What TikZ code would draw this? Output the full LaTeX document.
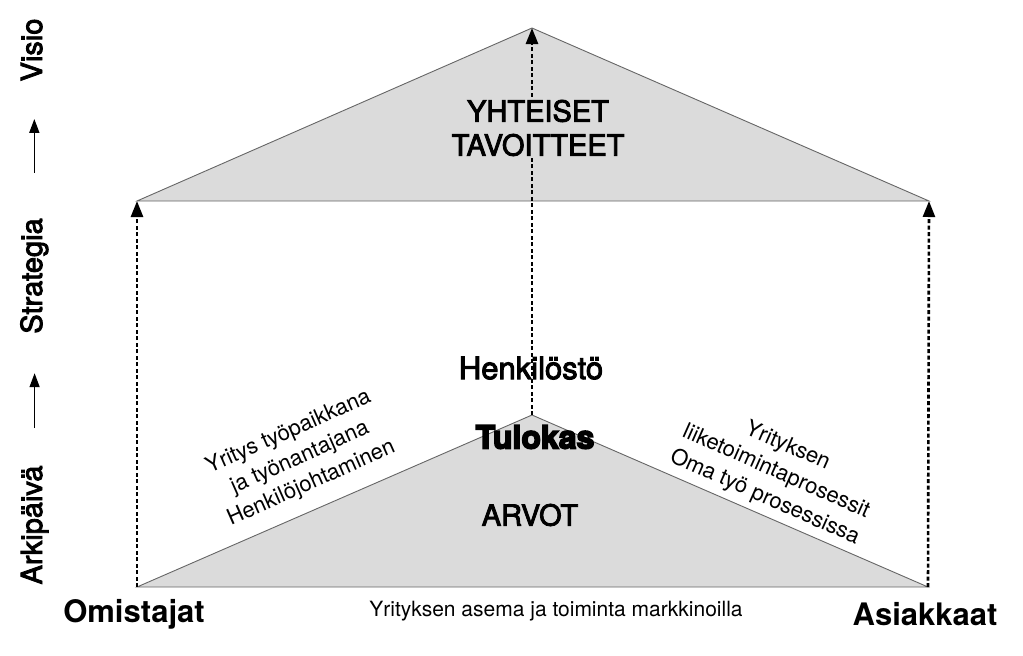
\documentclass[tikz,border=0pt]{standalone}
\usepackage{fontspec}
\setmainfont{TeX Gyre Heros}
\newfontfamily\mediumfont[FakeBold=3]{TeX Gyre Heros}
\newfontfamily\blackfont[FakeBold=5]{TeX Gyre Heros}
\usetikzlibrary{arrows.meta}

\begin{document}
\begin{tikzpicture}[x=1pt, y=-1pt,
    roof/.style = {fill=black!14, draw=black!60, line width=0.9pt},
    rise/.style = {draw, line width=2.6pt, dash pattern=on 4pt off 2.5pt, -{Triangle[length=16pt,width=12pt]}},
    axisarrow/.style = {line width=1.6pt, -{Triangle[length=14pt,width=10pt]}},
    axislabel/.style = {rotate=90, anchor=base, font=\mediumfont\fontsize{29}{33}\selectfont},
    big/.style = {font=\mediumfont\fontsize{29}{34}\selectfont, align=center},
    side/.style = {font=\fontsize{22}{28}\selectfont, align=center},
    corner/.style = {font=\bfseries\fontsize{31}{35}\selectfont}]
                \useasboundingbox (0,0) rectangle (1023,656);

                \coordinate (top) at (532, 28);
                \coordinate (roofL) at (137, 201);
                \coordinate (roofR) at (929, 201);
                \coordinate (peak) at (532, 415);
                \coordinate (baseL) at (137, 587);
                \coordinate (baseR) at (928, 587);

                \draw[roof] (roofL) -- (top) -- (roofR) -- cycle;
                \draw[roof] (baseL) -- (peak) -- (baseR) -- cycle;

                \draw[rise] (baseL) -- (roofL);
                \draw[rise] (baseR) -- (roofR);
                \draw[rise] (peak) -- (top);

                \node[big, fill=black!14, inner sep=1pt] at (538, 128) (goals) {YHTEISET\\TAVOITTEET};
                \node[big, font=\mediumfont\fontsize{31}{34}\selectfont] at (531, 368) (staff) {Henkilöstö};
                \node[big, font=\blackfont\bfseries\fontsize{32}{34}\selectfont] at (535, 437) (newbie) {Tulokas};
                \node[big] at (530, 515) (values) {ARVOT};

                \node[side, rotate=24] at (300, 458) (employer) {Yritys työpaikkana\\ja työnantajana\\Henkilöjohtaminen};
                \node[side, rotate=-24] at (776, 472) (process) {Yrityksen\\liiketoimintaprosessit\\Oma työ prosessissa};

                \node[corner] at (134, 614) (owners) {Omistajat};
                \node[corner] at (925, 614) (customers) {Asiakkaat};
                \node[font=\fontsize{21}{25}\selectfont] at (556, 611) (market) {Yrityksen asema ja toiminta markkinoilla};

                \node[axislabel] at (42, 50) (vision) {Visio};
                \node[axislabel] at (42, 276) (strategy) {Strategia};
                \node[axislabel] at (42, 525) (daily) {Arkipäivä};

                \draw[axisarrow, shorten <=34pt, shorten >=36pt] (daily.east) -- (daily.east |- strategy.west);
                \draw[axisarrow, shorten <=42pt, shorten >=34pt] (strategy.east) -- (strategy.east |- vision.west);
            \end{tikzpicture}
\end{document}
